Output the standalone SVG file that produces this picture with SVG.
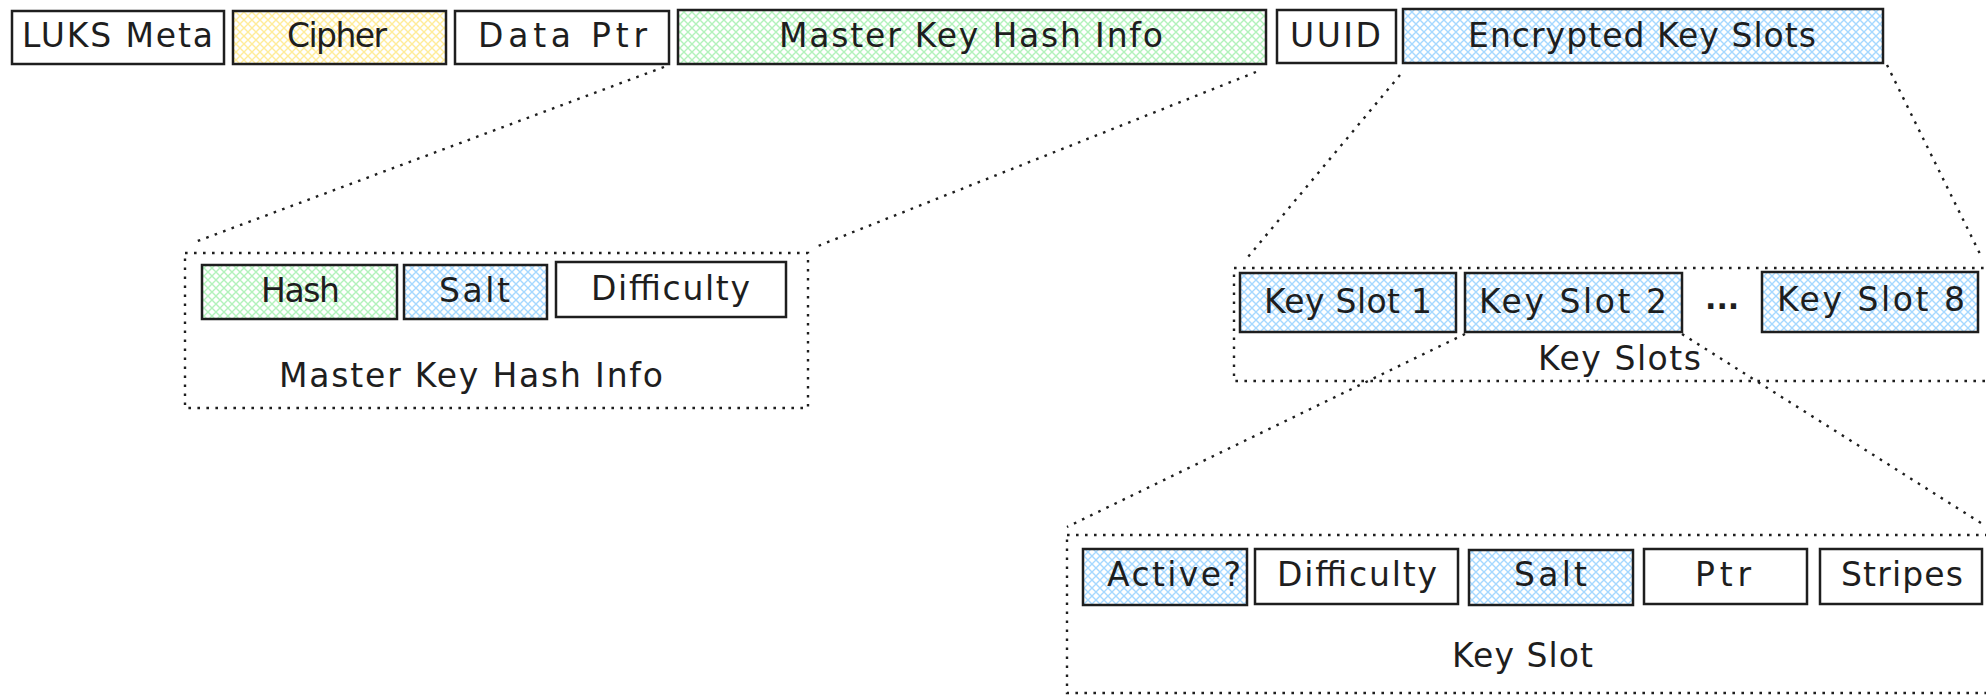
<svg xmlns="http://www.w3.org/2000/svg" width="1986" height="695" viewBox="0 0 1986 695">
  <style>
    .box { stroke: #1e1e1e; stroke-width: 2.5; }
    .plain { fill: #ffffff; }
    .blue { fill: url(#hatch-blue); }
    .green { fill: url(#hatch-green); }
    .yellow { fill: url(#hatch-yellow); }
    .frame { fill: none; stroke: #1e1e1e; stroke-width: 2.4; stroke-dasharray: 2.6 6.4; }
    .link { fill: none; stroke: #1e1e1e; stroke-width: 2.4; stroke-dasharray: 2.6 6.4; }
    text { font-family: "DejaVu Sans", "Liberation Sans", sans-serif; font-size: 33px; fill: #1e1e1e; }
    .ellipsis { font-weight: bold; font-size: 30px; }
  </style>
  <defs>
    <pattern id="hatch-blue" width="8" height="8" patternUnits="userSpaceOnUse">
      <rect width="8" height="8" fill="#ffffff"/>
      <path d="M-1 -1 L9 9 M9 -1 L-1 9" stroke="#a5d8ff" stroke-width="1.4"/>
    </pattern>
    <pattern id="hatch-green" width="8" height="8" patternUnits="userSpaceOnUse">
      <rect width="8" height="8" fill="#ffffff"/>
      <path d="M-1 -1 L9 9 M9 -1 L-1 9" stroke="#b2f2bb" stroke-width="1.4"/>
    </pattern>
    <pattern id="hatch-yellow" width="8" height="8" patternUnits="userSpaceOnUse">
      <rect width="8" height="8" fill="#ffffff"/>
      <path d="M-1 -1 L9 9 M9 -1 L-1 9" stroke="#ffec99" stroke-width="1.4"/>
    </pattern>
  </defs>

  <rect width="1986" height="695" fill="#ffffff"/>

  <!-- LUKS header fields -->
  <g id="luks-meta">
    <rect class="box plain" x="12" y="11" width="212" height="53"/>
    <text x="22" y="47" textLength="191">LUKS Meta</text>
  </g>
  <g id="cipher">
    <rect class="box yellow" x="233" y="11" width="213" height="53"/>
    <text x="287" y="47" textLength="100">Cipher</text>
  </g>
  <g id="data-ptr">
    <rect class="box plain" x="455" y="11" width="214" height="53"/>
    <text x="478" y="47" textLength="169">Data Ptr</text>
  </g>
  <g id="master-key-hash-info">
    <rect class="box green" x="678" y="10" width="588" height="54"/>
    <text x="779" y="47" textLength="384">Master Key Hash Info</text>
  </g>
  <g id="uuid">
    <rect class="box plain" x="1277" y="10" width="119" height="53"/>
    <text x="1290" y="47" textLength="91">UUID</text>
  </g>
  <g id="encrypted-key-slots">
    <rect class="box blue" x="1403" y="9" width="480" height="54"/>
    <text x="1468" y="47" textLength="348">Encrypted Key Slots</text>
  </g>

  <!-- Master key hash info breakdown -->
  <g id="hash-info-detail">
    <rect class="frame" x="185" y="253" width="623" height="155"/>
    <text x="279" y="387" textLength="384">Master Key Hash Info</text>
  </g>
  <g id="hash">
    <rect class="box green" x="202" y="265" width="195" height="54"/>
    <text x="261" y="302" textLength="79">Hash</text>
  </g>
  <g id="hash-salt">
    <rect class="box blue" x="404" y="265" width="143" height="54"/>
    <text x="439" y="302" textLength="71">Salt</text>
  </g>
  <g id="hash-difficulty">
    <rect class="box plain" x="556" y="262" width="230" height="55"/>
    <text x="591" y="300" textLength="159">Difficulty</text>
  </g>

  <!-- Key slot table -->
  <g id="key-slots">
    <rect class="frame" x="1234" y="268" width="760" height="113"/>
    <text x="1538" y="370" textLength="163">Key Slots</text>
    <text class="ellipsis" x="1705" y="309">...</text>
  </g>
  <g id="key-slot-1">
    <rect class="box blue" x="1240" y="273" width="216" height="59"/>
    <text x="1264" y="313" textLength="168">Key Slot 1</text>
  </g>
  <g id="key-slot-2">
    <rect class="box blue" x="1465" y="273" width="217" height="59"/>
    <text x="1479" y="313" textLength="188">Key Slot 2</text>
  </g>
  <g id="key-slot-8">
    <rect class="box blue" x="1762" y="272" width="216" height="60"/>
    <text x="1777" y="311" textLength="188">Key Slot 8</text>
  </g>

  <!-- Single key slot layout -->
  <g id="key-slot">
    <rect class="frame" x="1067" y="535" width="930" height="158"/>
    <text x="1452" y="667" textLength="141">Key Slot</text>
  </g>
  <g id="slot-active">
    <rect class="box blue" x="1083" y="549" width="164" height="56"/>
    <text x="1107" y="586" textLength="134">Active?</text>
  </g>
  <g id="slot-difficulty">
    <rect class="box plain" x="1255" y="549" width="203" height="55"/>
    <text x="1277" y="586" textLength="160">Difficulty</text>
  </g>
  <g id="slot-salt">
    <rect class="box blue" x="1469" y="550" width="164" height="55"/>
    <text x="1514" y="586" textLength="73">Salt</text>
  </g>
  <g id="slot-ptr">
    <rect class="box plain" x="1644" y="549" width="163" height="55"/>
    <text x="1695" y="586" textLength="56">Ptr</text>
  </g>
  <g id="slot-stripes">
    <rect class="box plain" x="1820" y="549" width="162" height="55"/>
    <text x="1841" y="586" textLength="122">Stripes</text>
  </g>

  <!-- Zoom-out connectors -->
  <g id="connectors">
    <path class="link" d="M664 67 L195 242"/>
    <path class="link" d="M1256 72 L813 248"/>
    <path class="link" d="M1400 75 L1248 257"/>
    <path class="link" d="M1887 65 L1982 258"/>
    <path class="link" d="M1465 334 L1067 527"/>
    <path class="link" d="M1682 334 L1981 523"/>
  </g>
</svg>
